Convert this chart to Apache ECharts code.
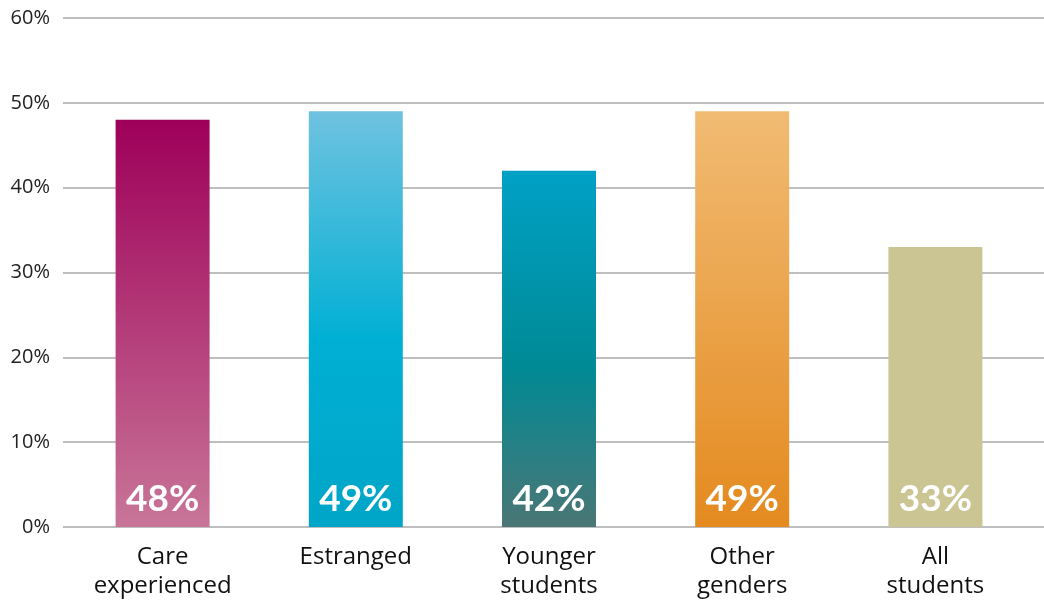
<!DOCTYPE html>
<html>
<head>
<meta charset="utf-8">
<script src="https://cdn.jsdelivr.net/npm/echarts@6/dist/echarts.min.js"></script>
<style>html,body{margin:0;padding:0;background:#fff}#c{width:1044px;height:601px}</style>
</head>
<body>
<div id="c"></div>
<script>
const categories = ['Care\nexperienced', 'Estranged', 'Younger\nstudents', 'Other\ngenders', 'All\nstudents'];
const values = [48, 49, 42, 49, 33];
const yTicks = [0, 10, 20, 30, 40, 50, 60];
const gradients = [
  [[0, '#9E0059'], [1, '#C87598']],
  [[0, '#70C2E0'], [0.55, '#00B0D4'], [1, '#00A5C7']],
  [[0, '#00A1C6'], [0.55, '#008A95'], [1, '#4B7675']],
  [[0, '#F1BB73'], [1, '#E48A1F']],
  [[0, '#CBC594'], [1, '#CBC594']]
];

const yMin = yTicks[0], yMax = yTicks[yTicks.length - 1];
const chart = echarts.init(document.getElementById('c'), null, {renderer: 'canvas'});
chart.setOption({
  animation: false,
  grid: [
    {left: 63, right: 0, top: 18, bottom: 74},
    {left: 66, right: 12, top: 18, bottom: 74}
  ],
  xAxis: [
    {gridIndex: 0, type: 'category', data: categories, show: false},
    {
      gridIndex: 1,
      type: 'category',
      data: categories,
      axisLine: {show: false},
      axisTick: {show: false},
      axisLabel: {color: '#111', fontFamily: 'Open Sans', fontSize: 24, lineHeight: 29, margin: 16}
    }
  ],
  yAxis: [
    {
      gridIndex: 0,
      type: 'value',
      min: yMin, max: yMax, interval: 10,
      axisLine: {show: false},
      axisTick: {show: false},
      splitLine: {lineStyle: {color: '#A8A8A8', width: 1.5}},
      axisLabel: {color: '#222', fontFamily: 'Open Sans', fontSize: 20, margin: 13, formatter: v => v + '%'}
    },
    {
      gridIndex: 1,
      type: 'value',
      min: yMin, max: yMax, interval: 10,
      show: false,
      splitLine: {show: false}
    }
  ],
  series: [{
    type: 'bar',
    xAxisIndex: 1,
    yAxisIndex: 1,
    barWidth: 94,
    data: values.map((v, i) => ({
      value: v,
      itemStyle: {color: new echarts.graphic.LinearGradient(0, 0, 0, 1, gradients[i].map(s => ({offset: s[0], color: s[1]})))}
    })),
    label: {
      show: true,
      position: 'insideBottom',
      distance: 9,
      color: '#fff',
      fontFamily: 'Lato',
      fontWeight: 'bold',
      fontSize: 37,
      formatter: p => p.value + '%'
    }
  }]
});
</script>
</body>
</html>
